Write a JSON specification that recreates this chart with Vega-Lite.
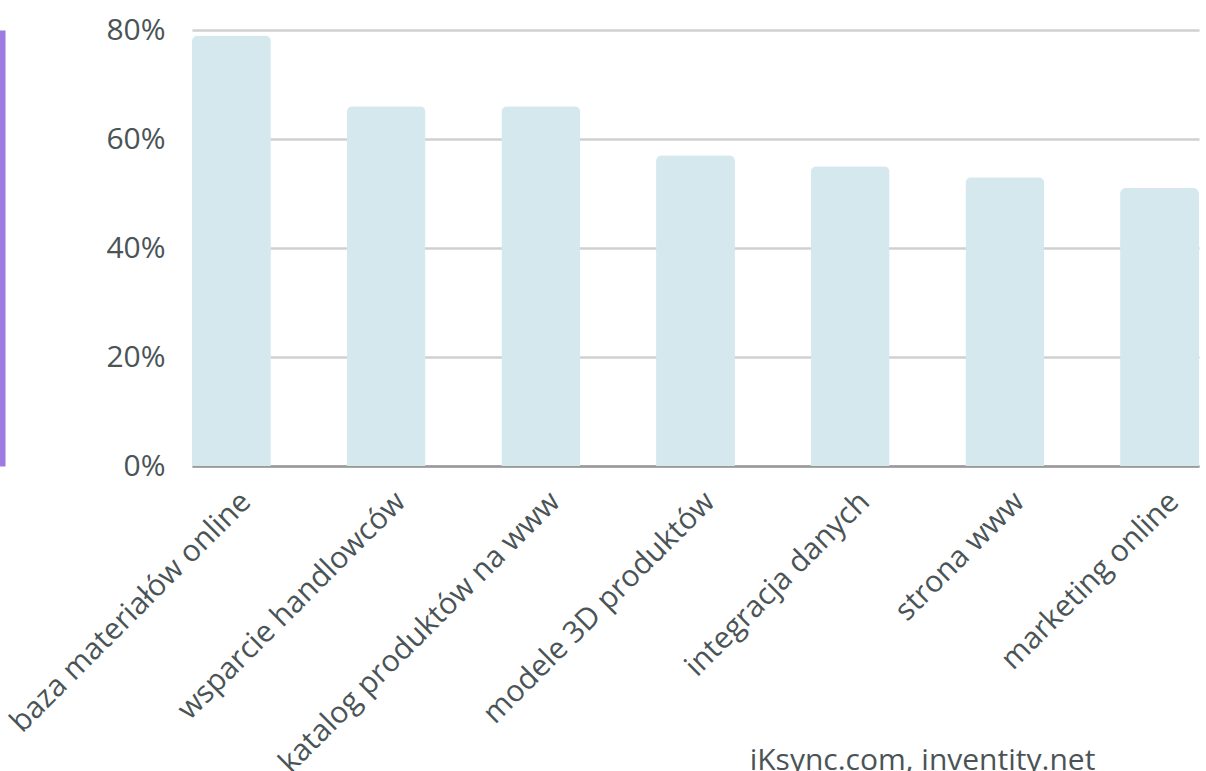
{
  "$schema": "https://vega.github.io/schema/vega-lite/v6.json",
  "autosize": "none",
  "width": 1007,
  "height": 436,
  "padding": {"left": 192, "top": 30, "right": 7, "bottom": 305},
  "background": "#ffffff",
  "config": {
    "view": {"stroke": null},
    "font": "Open Sans",
    "axis": {"labelFont": "Open Sans", "labelColor": "#4a5457", "titleFont": "Open Sans", "titleColor": "#4a5457"}
  },
  "data": {
    "values": [
      {"category": "baza materiałów online", "value": 0.79},
      {"category": "wsparcie handlowców", "value": 0.66},
      {"category": "katalog produktów na www", "value": 0.66},
      {"category": "modele 3D produktów", "value": 0.57},
      {"category": "integracja danych", "value": 0.55},
      {"category": "strona www", "value": 0.53},
      {"category": "marketing online", "value": 0.51}
    ]
  },
  "mark": {"type": "bar", "color": "#d4e8ed", "cornerRadiusTopLeft": 6, "cornerRadiusTopRight": 6},
  "encoding": {
    "x": {
      "field": "category",
      "type": "nominal",
      "sort": null,
      "scale": {"paddingInner": 0.49, "paddingOuter": 0},
      "axis": {
        "title": "iKsync.com, inventity.net",
        "titleFontSize": 30,
        "titleFontWeight": "normal",
        "titleX": 730,
        "titleY": 303,
        "titleAlign": "center",
        "titleBaseline": "alphabetic",
        "labelAngle": -45,
        "labelFontSize": 30,
        "labelPadding": 20,
        "labelOffset": 4,
        "labelLimit": 0,
        "ticks": false,
        "domainColor": "#999999",
        "domainWidth": 2.5,
        "labelOverlap": false
      }
    },
    "y": {
      "field": "value",
      "type": "quantitative",
      "scale": {"domain": [0, 0.8], "nice": false},
      "axis": {
        "title": null,
        "values": [0, 0.2, 0.4, 0.6, 0.8],
        "format": ".0%",
        "labelFontSize": 30,
        "labelPadding": -163,
        "offset": 190,
        "ticks": false,
        "domainColor": "#9e7be0",
        "domainWidth": 6,
        "gridColor": "#d0d0d0",
        "gridWidth": 2.5
      }
    }
  }
}
